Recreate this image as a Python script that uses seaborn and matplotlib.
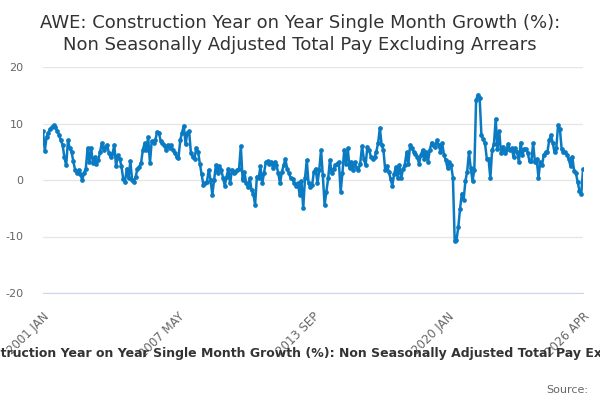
import numpy as np
import pandas as pd
import matplotlib
matplotlib.use("Agg")
from matplotlib import pyplot as plt
import seaborn as sns

# AWE construction, year on year single month growth (%), monthly 2001 Jan - 2026 Apr
growth_2001_2006 = [
    8.6, 5.2, 7.6, 8.4, 9.0, 9.3, 9.7, 9.4, 8.6, 8.0, 7.0, 6.2,
    4.0, 2.6, 7.0, 5.6, 5.0, 3.3, 1.8, 1.3, 1.8, 1.0, 0.0, 1.2,
    2.0, 5.6, 3.2, 5.7, 3.0, 4.0, 2.9, 3.5, 5.0, 6.5, 5.3, 5.9,
    6.2, 4.7, 4.0, 4.7, 6.2, 2.4, 4.4, 3.8, 2.4, 0.2, -0.3, 2.0,
    0.3, 3.3, 0.0, -0.3, 0.6, 2.0, 2.3, 3.0, 5.3, 6.5, 5.3, 7.6,
    3.0, 6.9, 6.6, 7.0, 8.5, 8.4, 6.9, 6.5, 6.2, 5.3, 6.2, 5.6,
]
growth_2007_2012 = [
    6.2, 5.3, 4.7, 4.1, 3.9, 7.0, 8.4, 9.6, 6.3, 8.4, 8.6, 4.7,
    4.1, 3.8, 5.7, 5.0, 2.9, 1.0, -0.9, -0.6, -0.3, 1.8, 0.0, -2.6,
    0.0, 2.6, 1.2, 2.4, 1.8, 0.4, -1.0, 0.6, 2.0, -0.6, 1.8, 1.2,
    1.5, 1.8, 2.0, 6.0, 0.0, 1.4, -0.6, -1.2, 0.3, -1.8, -2.4, -4.4,
    0.6, 0.3, 2.4, -0.6, 1.2, 3.1, 3.3, 2.9, 3.2, 2.2, 3.2, 2.6,
    1.2, -0.6, 1.4, 2.6, 3.7, 2.0, 1.2, 0.3, 0.2, -0.6, -1.0, -0.6,
]
growth_2013_2019 = [
    -2.6, -0.2, -5.0, 0.3, 3.5, -0.6, -1.2, -0.9, 1.5, 2.0, -0.6, 1.8,
    5.3, 0.8, -4.4, -2.1, 0.3, 3.5, 1.2, 1.9, 2.7, 2.9, 3.2, -2.1,
    1.2, 5.3, 2.9, 5.6, 2.1, 3.2, 1.8, 3.1, 2.1, 1.8, 2.9, 6.0,
    3.8, 2.6, 5.9, 5.3, 4.1, 3.8, 4.0, 5.0, 6.5, 9.2, 6.2, 5.3,
    1.8, 2.5, 1.5, 0.2, -1.0, 1.0, 2.3, 0.4, 2.6, 0.4, 1.9, 2.7,
    4.9, 2.9, 6.2, 5.6, 5.0, 4.6, 4.1, 2.9, 4.4, 5.3, 3.8, 4.9,
    3.2, 5.3, 6.6, 6.2, 5.9, 7.0, 6.2, 5.0, 6.5, 4.4, 3.5, 2.1,
]
growth_2020_2026 = [
    3.2, 2.6, 0.4, -10.8, -10.6, -8.4, -5.1, -2.4, -3.5, -0.2, 1.5, 4.9,
    2.1, -0.2, 1.8, 14.1, 15.1, 14.5, 7.9, 7.3, 6.5, 3.8, 3.7, 0.3,
    5.3, 6.3, 10.8, 5.5, 8.6, 4.7, 5.9, 4.7, 5.3, 6.3, 5.3, 5.6,
    4.1, 5.6, 5.0, 3.2, 6.6, 4.4, 5.5, 5.5, 4.7, 3.3, 3.3, 6.5,
    3.2, 3.7, 0.4, 3.2, 2.6, 4.5, 4.9, 4.9, 7.0, 7.9, 6.6, 4.9,
    5.6, 9.7, 9.1, 5.5, 4.9, 4.9, 4.5, 3.7, 2.4, 4.1, 1.6, 1.2,
    -0.4, -1.9, -2.5, 1.9,
]
tick_labels = ["2001 JAN", "2007 MAY", "2013 SEP", "2020 JAN", "2026 APR"]
y_ticks = [-20, -10, 0, 10, 20]

series_name = ("AWE: Construction Year on Year Single Month Growth (%): "
               "Non Seasonally Adjusted Total Pay Excluding Arrears")

values = growth_2001_2006 + growth_2007_2012 + growth_2013_2019 + growth_2020_2026
df = pd.DataFrame({"month": np.arange(len(values)), "growth": values})

sns.set_style("white")
plt.rcParams["font.family"] = ["DejaVu Sans"]

fig = plt.figure(figsize=(6, 4), dpi=100)
ax = fig.add_axes([0.0717, 0.2675, 0.9, 0.565])

sns.lineplot(data=df, x="month", y="growth", ax=ax, color="#0a7bc2",
             linewidth=1.8, marker="o", markersize=3.4, markeredgewidth=0,
             label=series_name)

n = len(values) - 1
ax.set_xlim(0, n)
ax.set_ylim(-20, 20)
ax.set_yticks(y_ticks)
ax.set_yticklabels([str(v) for v in y_ticks])
all_ticks = np.linspace(0, n, 17)
ax.set_xticks(all_ticks)
ax.set_xticklabels([tick_labels[i // 4] if i % 4 == 0 else "" for i in range(17)],
                   rotation=45, ha="right", rotation_mode="anchor")
ax.tick_params(axis="x", length=8, color="#ccd6eb", colors="#666666", labelsize=8.5, pad=4)
ax.tick_params(axis="y", length=0, colors="#666666", labelsize=8, pad=14)
ax.set_xlabel("")
ax.set_ylabel("")
ax.grid(axis="y", color="#e6e6e6", linewidth=1)
ax.set_axisbelow(True)
for s in ["top", "right", "left"]:
    ax.spines[s].set_visible(False)
ax.spines["bottom"].set_color("#ccd6eb")
ax.spines["bottom"].set_zorder(5)

# legend sits below the chart; it is wider than the figure, as in the source
ax.get_legend().remove()
handles, labels = ax.get_legend_handles_labels()
fig.legend(handles, labels, loc="center", bbox_to_anchor=(0.5, 0.115), frameon=False,
           prop={"weight": "bold", "size": 9}, labelcolor="#333333",
           handlelength=2.2, handletextpad=0.6)

fig.text(0.5, 0.965, "AWE: Construction Year on Year Single Month Growth (%):\n"
         "Non Seasonally Adjusted Total Pay Excluding Arrears",
         ha="center", va="top", fontsize=13, color="#333333", linespacing=1.3)
fig.text(0.98, 0.012, "Source:", ha="right", va="bottom", fontsize=8, color="#666666")

fig.savefig("out.png", dpi=100)
